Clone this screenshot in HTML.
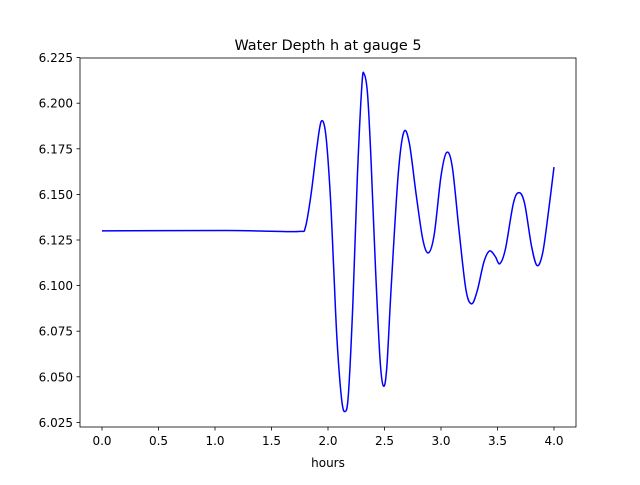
<!DOCTYPE html>
<html><head><meta charset="utf-8"><style>
body{margin:0;background:#fff;}
svg text{font-family:"DejaVu Sans","Liberation Sans",sans-serif;fill:#000;}
</style></head><body>
<svg id="chart" width="640" height="480" xmlns="http://www.w3.org/2000/svg">
<rect width="640" height="480" fill="#fff"/>
<text x="328" y="50" font-size="14.4" text-anchor="middle">Water Depth h at gauge 5</text>
<g id="ticks"></g>
<path id="line" fill="none" stroke="#0000ff" stroke-width="1.5"/>
<rect x="80" y="58" width="496" height="369" fill="none" stroke="#000" stroke-width="0.8"/>
<text x="328" y="467" font-size="12" text-anchor="middle">hours</text>
</svg>
<script>
const hours=[0,1.1,1.5,1.75,1.8,1.85,1.9,1.94,1.98,2.02,2.05,2.08,2.12,2.15,2.18,2.22,2.26,2.3,2.32,2.35,2.38,2.42,2.46,2.49,2.52,2.56,2.62,2.67,2.72,2.78,2.84,2.89,2.94,3.0,3.05,3.1,3.16,3.22,3.27,3.32,3.38,3.43,3.48,3.52,3.57,3.64,3.69,3.74,3.8,3.85,3.9,3.95,4.0];
const depth=[6.130,6.1302,6.1298,6.1297,6.132,6.150,6.175,6.190,6.183,6.150,6.110,6.070,6.038,6.031,6.040,6.090,6.160,6.210,6.216,6.205,6.170,6.110,6.060,6.045,6.055,6.100,6.160,6.184,6.178,6.150,6.125,6.118,6.128,6.160,6.173,6.165,6.130,6.098,6.090,6.097,6.113,6.119,6.116,6.112,6.120,6.145,6.151,6.145,6.122,6.111,6.118,6.140,6.165];
const xTicks=[0,0.5,1,1.5,2,2.5,3,3.5,4];
const xTickLabels=["0.0","0.5","1.0","1.5","2.0","2.5","3.0","3.5","4.0"];
const yTicks=[6.025,6.05,6.075,6.1,6.125,6.15,6.175,6.2,6.225];
const yTickLabels=["6.025","6.050","6.075","6.100","6.125","6.150","6.175","6.200","6.225"];
const X=v=>102+v*113;
const Y=v=>240-(v-6.125)*1824;
const NS="http://www.w3.org/2000/svg";
const g=document.getElementById('ticks');
function mk(tag,attrs){const e=document.createElementNS(NS,tag);for(const k in attrs)e.setAttribute(k,attrs[k]);return e;}
xTicks.forEach((t,i)=>{
 const l=mk('line',{x1:X(t),x2:X(t),y1:427,y2:430.5,stroke:'#000','stroke-width':0.8});
 
 
 g.appendChild(l);
 const tx=mk('text',{x:X(t),y:445,'font-size':12,'text-anchor':'middle'});
 tx.textContent=xTickLabels[i];
 
 
 g.appendChild(tx);
});
yTicks.forEach((t,i)=>{
 const l=mk('line',{x1:76.5,x2:80,y1:Y(t),y2:Y(t),stroke:'#000','stroke-width':0.8});
 
 
 g.appendChild(l);
 const tx=mk('text',{x:73,y:Y(t)+4.5,'font-size':12,'text-anchor':'end'});
 tx.textContent=yTickLabels[i];
 
 
 g.appendChild(tx);
});
const P=hours.map((h,i)=>[X(h),Y(depth[i])]);
let d=`M${P[0][0]},${P[0][1]}`;
for(let i=0;i<P.length-1;i++){
 const p0=P[Math.max(i-1,0)],p1=P[i],p2=P[i+1],p3=P[Math.min(i+2,P.length-1)];
 const c1=[p1[0]+(p2[0]-p0[0])/6,p1[1]+(p2[1]-p0[1])/6];
 const c2=[p2[0]-(p3[0]-p1[0])/6,p2[1]-(p3[1]-p1[1])/6];
 d+=` C${c1[0]},${c1[1]} ${c2[0]},${c2[1]} ${p2[0]},${p2[1]}`;
}
document.getElementById('line').setAttribute('d',d);
</script>
</body></html>
